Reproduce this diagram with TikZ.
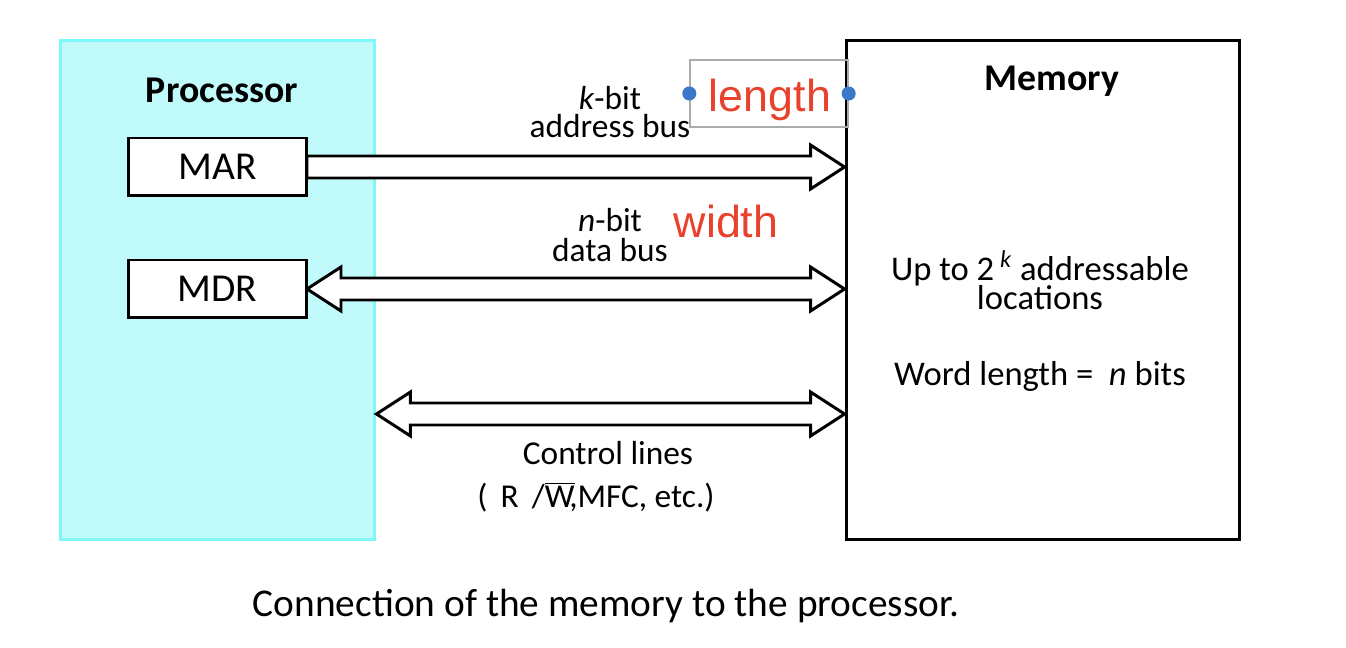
\documentclass[tikz,border=0pt]{standalone}
\usepackage{fontspec}
\setmainfont{Carlito}
\newfontfamily\notefont{Liberation Sans}
\usepackage{xcolor}
\usetikzlibrary{positioning, calc}
\definecolor{procfill}{HTML}{C0FAFA}
\definecolor{procline}{HTML}{80F8F8}
\definecolor{notered}{HTML}{E8412C}
\definecolor{handleblue}{HTML}{3B78C9}
\tikzstyle{unitbox} = [rectangle, draw, line width=1.7pt, minimum height=10cm]
\tikzstyle{reg} = [rectangle, draw, line width=1.7pt, fill=white,
    minimum width=3.58cm, minimum height=1.16cm, font=\fontsize{22.5}{24}\selectfont]
\tikzstyle{unittitle} = [font=\fontsize{21.5}{24}\selectfont\bfseries, inner sep=0pt]
\tikzstyle{buslabel} = [font=\fontsize{19}{22}\selectfont, inner sep=0pt]
\tikzstyle{memlabel} = [font=\fontsize{19.7}{22}\selectfont, inner sep=0pt]
\tikzstyle{redtag} = [font=\notefont\fontsize{25.5}{28}\selectfont, text=notered, inner sep=0pt]
\tikzstyle{lenbox} = [rectangle, draw=gray!65, line width=0.8pt,
    minimum width=3.16cm, minimum height=1.34cm]
\tikzset{
  onebus/.style={line width=1.7pt, fill=white, to path={
    ($(\tikztostart)+(0,-11)$) -- ($(\tikztotarget)+(-34,-11)$)
    -- ($(\tikztotarget)+(-34,-22)$) -- (\tikztotarget)
    -- ($(\tikztotarget)+(-34,22)$) -- ($(\tikztotarget)+(-34,11)$)
    -- ($(\tikztostart)+(0,11)$) -- cycle}},
  twobus/.style={line width=1.7pt, fill=white, to path={
    (\tikztostart) -- ($(\tikztostart)+(34,-22)$) -- ($(\tikztostart)+(34,-11)$)
    -- ($(\tikztotarget)+(-34,-11)$) -- ($(\tikztotarget)+(-34,-22)$)
    -- (\tikztotarget)
    -- ($(\tikztotarget)+(-34,22)$) -- ($(\tikztotarget)+(-34,11)$)
    -- ($(\tikztostart)+(34,11)$) -- ($(\tikztostart)+(34,22)$) -- cycle}}
}

\begin{document}
\begin{tikzpicture}[x=0.02cm, y=-0.02cm]
      \useasboundingbox (0,0) rectangle (1346,648);
      % Place the two units
      \node [unitbox, draw=procline, fill=procfill, minimum width=6.3cm] (proc) at (217.5,290) {};
      \node [unitbox, minimum width=7.88cm] (mem) at (1043,290) {};
      \node [unittitle] (proctitle) at (222,90) {Processor};
      \node [unittitle] (memtitle) at (1052,81) {Memory};
      % Bus end points
      \coordinate (marpos) at (217.5,167);
      \coordinate (mdrpos) at (217.5,289);
      \coordinate (addrstart) at (307,167);
      \coordinate (datastart) at (307,289);
      \coordinate (addrend) at (addrstart -| mem.west);
      \coordinate (dataend) at (datastart -| mem.west);
      \coordinate (ctlstart) at (proc.east |- 0,414);
      \coordinate (ctlend) at (ctlstart -| mem.west);
      % Draw buses
      \draw [onebus] (addrstart) to (addrend);
      \draw [twobus] (datastart) to (dataend);
      \draw [twobus] (ctlstart) to (ctlend);
      % Place registers on top
      \node [reg] (mar) at (marpos) {MAR};
      \node [reg] (mdr) at (mdrpos) {MDR};
      % Bus labels
      \node [buslabel] (kbit) at (610,98) {\textit{k}-bit};
      \node [buslabel] (addrtxt) at (610,126) {address bus};
      \node [buslabel] (nbit) at (610,220) {\textit{n}-bit};
      \node [buslabel] (datatxt) at (610,250) {data bus};
      \node [buslabel] (ctltxt) at (608,453) {Control lines};
      \node [buslabel] (ctlsig) at (596,497) {(\, R\, /$\overline{\mbox{W}}$\kern-3pt,MFC, etc.)};
      % Memory text
      \node [memlabel] (memsize) at (1040,268) {Up to 2\,\textsuperscript{\textit{k}} addressable};
      \node [memlabel] (memloc) at (1040,298) {locations};
      \node [memlabel] (wordlen) at (1040,376) {Word length =\ \ \textit{n} bits};
      % Red notes
      \node [lenbox] (len) at (769,93.5) {};
      \node [redtag] (lentxt) at (770,100) {length};
      \fill [handleblue] (len.west) circle (4pt);
      \fill [handleblue] (len.east) circle (4pt);
      \node [redtag] (wid) at (726,221) {width};
      % Caption
      \node [buslabel, font=\fontsize{22.4}{26}\selectfont] (caption) at (606,606) {Connection of the memory to the processor.};
  \end{tikzpicture}
\end{document}
